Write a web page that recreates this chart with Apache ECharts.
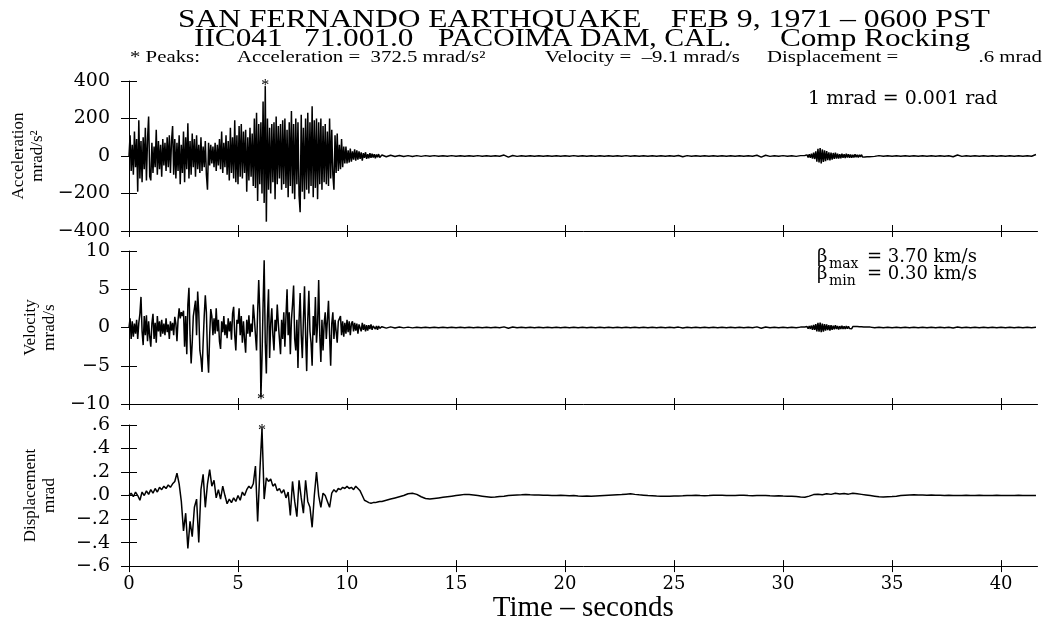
<!DOCTYPE html>
<html><head><meta charset="utf-8">
<script src="https://cdn.jsdelivr.net/npm/echarts@6/dist/echarts.min.js"></script>
<style>html,body{margin:0;padding:0;background:#fff}#c{width:1049px;height:624px}</style>
</head><body><div id="c"></div>
<script>
// ---------- DATA ----------
const xTicks = [0, 5, 10, 15, 20, 25, 30, 35, 40];
const xMax = 41.67;
const accTicks = [-400, -200, 0, 200, 400];
const accTickLabels = ['−400', '−200', '0', '200', '400'];
const velTicks = [-10, -5, 0, 5, 10];
const velTickLabels = ['−10', '−5', '0', '5', '10'];
const dispTicks = [-0.6, -0.4, -0.2, 0, 0.2, 0.4, 0.6];
const dispTickLabels = ['−.6', '−.4', '−.2', '.0', '.2', '.4', '.6'];

const earlyStart = 0, earlyStep = 0.05;        // acc & vel, 0 .. 11.5 s
const dispEarlyStep = 0.1;                      // disp, 0 .. 11.5 s
const tailAStart = 11.6, tailStep = 0.2;        // 11.6 .. 30.8 s
const burstStart = 31.0, burstStep = 0.05;      // 31.0 .. 34.0 s
const tailBStart = 34.2;                        // 34.2 .. 41.6 s
const dispTailStart = 11.6;                     // disp, 11.6 .. 41.6 s

// Acceleration (mrad/s^2)
const accEarly = [
  0, 110, -80, 60, -100, 130, -60, 90, -190, 190, -120, 80, -140, 100, -70, 150, -130, 90, 210, -110,
  -130, 70, -90, 50, -60, 140, -100, 80, -70, 60, -110, 90, -50, 70, -80, 100, -60, 110, -90, 80,
  160, -100, 90, -120, 70, -80, 110, -150, 60, -90, 130, -140, 100, -70, 175, -120, 80, -100, 120, -60,
  90, -110, 110, -70, 60, -90, 100, -80, 50, -60, 80, -100, -180, 70, -50, 60, -40, 50, -60, 70,
  -80, 60, -50, 90, -70, 130, -90, 70, -60, 110, -100, 80, -130, 150, -90, 100, -120, 190, -140, 110,
  -150, 160, -110, 170, -120, 130, -90, 140, -190, 100, -130, 150, -110, 120, -160, 200, -170, 230, -240, 170,
  -150, 180, -200, 290, -250, 372.5, -350, 200, -180, 150, -200, 170, -140, 180, -230, 210, -150, 160, -120, 170,
  -180, 190, -150, 200, -170, 140, -220, 180, -160, 240, -200, 170, -230, 200, -150, 180, -210, -300, 220, -190,
  150, -230, 200, -180, 230, -200, 180, -160, 265, -220, 190, -170, 200, -230, 180, -150, 200, -180, 160, -140,
  170, -150, 130, -160, 200, -120, 140, -100, -180, 110, -90, 120, -80, 60, -70, 90, -60, 50, -40, 50,
  -40, 30, -35, 40, -30, 25, -20, 35, -25, 30, -20, 25, -15, 20, -25, 15, -10, 20, -15, 10,
  -12, 15, -10, 12, -8, 10, -12, 8, -6, 10, -8
];
const accTailA = [
  5, -4, 4, -3, 3, -3, 2, -3, 2, -2,
  2, -1, 2, -1, 1, -1, 2, -1, 1, -1,
  1, -1, 2, -1, 1, -1, 1, -1, 5, -6,
  3, -2, 1, -1, 1, -1, 1, -1, 1, -1,
  1, -1, 1, -1, 2, -1, 1, -1, 1, -1,
  1, -1, 1, -1, 1, -1, 2, -1, 1, -1,
  1, -1, 1, -1, 1, -1, 1, -1, 3, -4,
  2, -1, 1, -1, 1, -1, 1, -1, 1, -1,
  1, -1, 1, -1, 1, -1, 4, -6, 4, -2,
  1, -1, 2, -1, 1, -2, 2
];
const accBurst = [
  3, -5, 6, -8, 10, -9, 12, -14, 18, -16,
  25, -30, 38, -35, 42, -40, 35, -32, 30, -28,
  26, -22, 20, -24, 18, -20, 16, -15, 18, -14,
  12, -14, 10, -12, 13, -10, 9, -11, 12, -8,
  10, -9, 8, -10, 7, -8, 9, -6, 7, -8,
  6, -5, 7, -6, 4, -5, 5, -4, 3, -4,
  3
];
const accTailB = [
  -2, 2, -1, 1, -1, 1, -1, 1, -1, 1,
  -1, 1, -1, 1, -1, 1, -1, 1, -4, 5,
  -2, 1, -1, 1, -1, 1, -1, 1, -1, 1,
  -1, 1, -1, 1, -1, 1, -1, 8
];

// Velocity (mrad/s)
const velEarly = [
  0, 1.2, -1.5, 0.8, -1.2, 0.5, -0.8, 1.0, -1.5, 0.6, 1.8, 4.0, -0.5, -2.3, 1.5, -1.0, 1.6, -1.8, 0.8, -1.2,
  -2.5, 0.5, 1.8, -1.5, 0.6, -2.0, 1.5, -0.5, 0.8, -1.2, 1.0, -0.8, 0.5, -1.0, 1.2, -0.6, 0.4, -1.5, 0.8, -0.4,
  0.6, -1.0, 1.4, 0.5, -1.8, 1.0, 2.5, 1.2, 2.0, 1.5, 2.2, -2.5, 1.5, -3.5, 3.0, 5.2, -1.0, -4.7, -2.0, 1.5,
  2.5, 3.5, -1.0, 4.7, 2.0, -3.0, -4.0, -5.8, -2.0, 1.5, 4.2, 2.0, -3.5, -5.9, -1.0, 2.4, 1.5, -1.0, 1.2, -0.8,
  2.5, -0.5, 1.0, -1.8, -2.8, 0.8, -0.6, 1.5, -1.0, 0.4, -1.4, 1.2, -0.5, 0.8, -1.6, 1.8, 2.7, -1.0, -3.0, 1.0,
  0.5, 2.5, -1.0, 1.5, -2.0, 0.8, -1.5, -3.3, 1.0, -0.8, 1.6, -1.2, 0.5, -0.6, 3.0, 1.2, -1.0, -3.0, 2.0, 6.2,
  2.0, -9.1, -4.0, 3.0, 8.8, -2.0, -6.0, 1.5, 5.0, -4.0, 0.5, 2.5, -1.0, -3.0, 1.0, -0.5, 3.0, 0.5, -1.5, -3.5,
  1.0, -1.5, 2.0, -2.5, 1.5, 5.0, -1.0, 2.0, -3.5, 1.0, 3.0, 5.5, -1.5, -3.0, 1.0, -5.3, 1.0, 4.5, -1.0, -4.0,
  1.0, 5.4, -1.0, -5.7, 1.0, 4.8, -0.5, -2.0, -5.0, 1.5, -1.0, 4.0, -2.0, 0.5, 6.2, -1.0, -4.5, 1.0, -3.0, 0.5,
  2.0, -1.5, 1.0, 3.5, -1.0, -5.0, 0.5, 2.0, -1.5, 1.0, -0.5, -2.0, 0.8, 1.0, 1.5, -1.0, 0.8, -1.2, 0.6, -0.8,
  1.0, -0.6, 0.8, -1.0, 0.5, 0.8, -0.5, 0.6, -0.4, 0.5, -0.8, 0.4, 0.3, -0.5, 0.6, -0.3, 0.4, -0.5, 0.3, -0.4,
  0.3, -0.2, 0.4, -0.3, 0.2, 0.3, -0.2, 0.2, -0.3, 0.2, -0.1
];
const velTailA = [
  0.1, -0.08, 0.08, -0.06, 0.06, -0.05, 0.05, -0.05, 0.04, -0.04,
  0.04, -0.03, 0.04, -0.04, 0.03, -0.03, 0.04, -0.03, 0.03, -0.03,
  0.03, -0.03, 0.04, -0.03, 0.03, -0.03, 0.03, -0.03, 0.08, -0.1,
  0.06, -0.04, 0.03, -0.03, 0.03, -0.03, 0.03, -0.03, 0.03, -0.03,
  0.03, -0.03, 0.03, -0.03, 0.04, -0.03, 0.03, -0.03, 0.03, -0.03,
  0.03, -0.03, 0.03, -0.03, 0.03, -0.03, 0.04, -0.03, 0.03, -0.03,
  0.03, -0.03, 0.03, -0.03, 0.03, -0.03, 0.03, -0.03, 0.05, -0.06,
  0.04, -0.03, 0.03, -0.03, 0.03, -0.03, 0.03, -0.03, 0.03, -0.03,
  0.03, -0.03, 0.03, -0.03, 0.03, -0.03, 0.08, -0.1, 0.07, -0.04,
  0.03, -0.03, 0.04, -0.03, 0.03, -0.04, 0.05
];
const velBurst = [
  0.08, -0.1, 0.12, -0.15, 0.2, -0.18, 0.25, -0.3, 0.35, -0.3,
  0.45, -0.5, 0.6, -0.55, 0.65, -0.6, 0.5, -0.55, 0.45, -0.4,
  0.4, -0.35, 0.3, -0.4, 0.3, -0.3, 0.25, -0.25, 0.3, -0.2,
  0.2, -0.25, 0.18, -0.2, 0.22, -0.18, 0.15, -0.2, 0.18, -0.14,
  0.15, -0.14, 0.12, -0.15, 0.12, -0.12, 0.14, -0.1, 0.12, -0.12,
  0.1, -0.08, 0.1, -0.09, 0.07, -0.08, 0.08, -0.06, 0.05, -0.06,
  0.05
];
const velTailB = [
  -0.04, 0.04, -0.03, 0.03, -0.03, 0.03, -0.03, 0.03, -0.03, 0.03,
  -0.03, 0.03, -0.03, 0.03, -0.03, 0.03, -0.03, 0.03, -0.06, 0.07,
  -0.04, 0.03, -0.03, 0.03, -0.03, 0.03, -0.03, 0.03, -0.03, 0.03,
  -0.03, 0.03, -0.03, 0.03, -0.03, 0.03, -0.03, 0.04
];

// Displacement (mrad)
const dispEarly = [
  0.0, 0.02, -0.01, 0.03, 0.0, -0.04, 0.03, 0.0, 0.04, 0.01,
  0.05, 0.02, 0.06, 0.03, 0.07, 0.05, 0.08, 0.06, 0.09, 0.07,
  0.1, 0.12, 0.19, 0.1, -0.05, -0.3, -0.15, -0.45, -0.22, -0.35,
  -0.1, -0.03, -0.4, 0.05, 0.18, -0.1, 0.1, 0.22, 0.08, 0.13,
  -0.02, 0.05, -0.03, 0.08, 0.0, -0.07, -0.03, -0.06, -0.02, -0.05,
  0.0, -0.04, 0.03, 0.0, 0.05, 0.08, 0.06, 0.1, 0.25, -0.22,
  0.2, 0.57, -0.03, 0.15, 0.12, 0.14, 0.08, 0.1, 0.04, 0.06,
  0.02, 0.05, -0.02, 0.03, -0.17, 0.12, -0.05, -0.18, 0.13, -0.02,
  -0.15, 0.13, -0.05, -0.1, -0.27, 0.0, 0.2, 0.0, -0.1, 0.02,
  0.0, -0.05, -0.1, 0.02, 0.05, 0.03, 0.06, 0.05, 0.07, 0.06,
  0.08, 0.06, 0.07, 0.05, 0.08, 0.06, 0.04, 0.0, -0.04, -0.05,
  -0.06, -0.065, -0.06, -0.06, -0.055, -0.05
];
const dispTail = [
  -0.05, -0.04, -0.03, -0.02, -0.01, 0.0, 0.015, 0.02,
  0.01, -0.01, -0.025, -0.03, -0.025, -0.02, -0.015, -0.01, -0.005, 0.0, 0.005, 0.01, 0.008, 0.005, 0.0, -0.005, -0.01, -0.015, -0.012, -0.008,
  -0.005, 0.0, 0.003, 0.005, 0.006, 0.008, 0.006, 0.005, 0.004, 0.002, 0.003, 0.001, 0.0, 0.002, 0.0,
  -0.002, 0.0, -0.003, -0.005, -0.004, -0.006, -0.004, -0.002, 0.0, 0.002, 0.004, 0.006, 0.008, 0.012, 0.015, 0.01, 0.006, 0.003, 0.0, -0.002, -0.004, -0.005, -0.006, -0.005, -0.004,
  -0.003, -0.002, 0.0, 0.001, 0.002, 0.0, -0.001, 0.0, 0.002, 0.003, 0.002, 0.001, 0.0, 0.001, 0.003, 0.002, 0.0, -0.001, 0.0, 0.001, 0.0, -0.002, -0.003, -0.002, -0.004,
  -0.005, -0.006, -0.008, -0.012, -0.015, -0.005, 0.008, 0.012, 0.006, 0.015, 0.01, 0.02, 0.014, 0.018, 0.012, 0.02, 0.015, 0.01, 0.005, 0.0,
  -0.005, -0.01, -0.012, -0.01, -0.008, -0.005, 0.0, 0.003, 0.005, 0.006, 0.005, 0.004, 0.003, 0.004, 0.002, 0.003, 0.001, 0.002, 0.0, 0.001,
  0.0, 0.002, 0.001, 0.0, 0.002, 0.001, 0.0, 0.001, 0.002, 0.0, 0.001, 0.0, 0.001, 0.002, 0.0, 0.001, 0.0, 0.001
];

// Peak markers [time s, value]
const accPeak = [6.25, 372.5];
const velPeak = [6.05, -9.1];
const dispPeak = [6.1, 0.57];

// ---------- BUILD ----------
function toPairs(segments) {
  const out = [];
  segments.forEach(([start, step, values]) => {
    values.forEach((v, i) => out.push([+(start + i * step).toFixed(3), v]));
  });
  return out;
}
const accData = toPairs([[earlyStart, earlyStep, accEarly], [tailAStart, tailStep, accTailA],
  [burstStart, burstStep, accBurst], [tailBStart, tailStep, accTailB]]);
const velData = toPairs([[earlyStart, earlyStep, velEarly], [tailAStart, tailStep, velTailA],
  [burstStart, burstStep, velBurst], [tailBStart, tailStep, velTailB]]);
const dispData = toPairs([[earlyStart, dispEarlyStep, dispEarly], [dispTailStart, tailStep, dispTail]]);

const BLACK = '#000';
const serif = 'Liberation Serif';
const numFont = 'DejaVu Serif';

const grids = [
  { left: 129, width: 908.5, top: 81, height: 150 },
  { left: 129, width: 908.5, top: 251, height: 153 },
  { left: 129, width: 908.5, top: 425, height: 152 }
];

function xAxes(g, showLabels) {
  const main = {
    type: 'value', gridIndex: g, position: 'bottom', min: 0, max: xMax, interval: 5,
    axisLine: { show: true, onZero: false, lineStyle: { color: BLACK, width: 1 } },
    axisTick: { show: true, inside: false, length: 6, customValues: xTicks, lineStyle: { color: BLACK, width: 1 } },
    axisLabel: { show: showLabels, customValues: xTicks, color: BLACK, fontFamily: numFont, fontSize: 18, margin: 9 },
    splitLine: { show: false }
  };
  if (showLabels) {
    main.name = 'Time – seconds';
    main.nameLocation = 'middle';
    main.nameGap = 18;
    main.nameTextStyle = { color: BLACK, fontFamily: serif, fontSize: 29 };
  }
  const aux = {
    type: 'value', gridIndex: g, position: 'bottom', min: 0, max: xMax, interval: 5,
    axisLine: { show: false, onZero: false },
    axisTick: { show: true, inside: true, length: 6, customValues: xTicks, lineStyle: { color: BLACK, width: 1 } },
    axisLabel: { show: false },
    splitLine: { show: false }
  };
  return [main, aux];
}
function yAxes(g, ticks, labels, name) {
  const step = ticks[1] - ticks[0];
  const fmt = v => {
    let best = 0;
    ticks.forEach((t, i) => { if (Math.abs(t - v) < Math.abs(ticks[best] - v)) best = i; });
    return labels[best];
  };
  const main = {
    type: 'value', gridIndex: g, position: 'left', min: ticks[0], max: ticks[ticks.length - 1], interval: step,
    axisLine: { show: true, onZero: false, lineStyle: { color: BLACK, width: 1 } },
    axisTick: { show: true, inside: false, length: 8, lineStyle: { color: BLACK, width: 1 } },
    axisLabel: { show: true, formatter: fmt, color: BLACK, fontFamily: numFont, fontSize: 19, margin: 19 },
    splitLine: { show: false },
    name: name, nameLocation: 'middle', nameRotate: 90, nameGap: 70,
    nameTextStyle: { color: BLACK, fontFamily: serif, fontSize: 17, lineHeight: 19 }
  };
  const aux = {
    type: 'value', gridIndex: g, position: 'left', min: ticks[0], max: ticks[ticks.length - 1], interval: step,
    axisLine: { show: false, onZero: false },
    axisTick: { show: true, inside: true, length: 8, lineStyle: { color: BLACK, width: 1 } },
    axisLabel: { show: false },
    splitLine: { show: false }
  };
  return [main, aux];
}

function trace(data, axisIdx, peak, dy) {
  return {
    type: 'line', xAxisIndex: axisIdx, yAxisIndex: axisIdx, data: data,
    showSymbol: false, symbol: 'none', animation: false,
    lineStyle: { color: BLACK, width: 1.5 },
    markPoint: {
      symbol: 'circle', symbolSize: 1, itemStyle: { color: BLACK },
      label: { show: true, formatter: '*', position: 'inside', offset: [0, dy], color: BLACK, fontFamily: serif, fontSize: 16 },
      data: [{ coord: peak }]
    }
  };
}

function txt(text, x, y, size, scale, align, family) {
  return {
    type: 'text', x: x, y: y, scaleX: scale, silent: true,
    style: { text: text, fill: BLACK, fontSize: size, fontFamily: family || serif, align: align || 'left', verticalAlign: 'middle' }
  };
}

const option = {
  backgroundColor: '#fff',
  animation: false,
  grid: grids,
  xAxis: [...xAxes(0, false), ...xAxes(1, false), ...xAxes(2, true)],
  yAxis: [
    ...yAxes(0, accTicks, accTickLabels, 'Acceleration\nmrad/s²'),
    ...yAxes(1, velTicks, velTickLabels, 'Velocity\nmrad/s'),
    ...yAxes(2, dispTicks, dispTickLabels, 'Displacement\nmrad')
  ],
  graphic: [
    txt('SAN FERNANDO EARTHQUAKE', 178, 20, 25, 1.26),
    txt('FEB 9, 1971 – 0600 PST', 990, 20, 25, 1.27, 'right'),
    txt('IIC041', 194, 39, 25, 1.25),
    txt('71.001.0', 304, 39, 25, 1.25),
    txt('PACOIMA DAM, CAL.', 438, 39, 25, 1.19),
    txt('Comp Rocking', 970, 39, 25, 1.25, 'right'),
    txt('* Peaks:', 130, 58, 16, 1.3),
    txt('Acceleration =  372.5 mrad/s²', 237, 58, 16, 1.3),
    txt('Velocity =  –9.1 mrad/s', 545, 58, 16, 1.3),
    txt('Displacement =', 767, 58, 16, 1.3),
    txt('.6 mrad', 1042, 58, 16, 1.3, 'right'),
    txt('1 mrad = 0.001 rad', 808, 99, 19, 1.0, 'left', numFont),
    txt('β', 817, 257, 18, 1.0, 'left', numFont),
    txt('max', 829, 264, 14, 1.0, 'left', numFont),
    txt('= 3.70 km/s', 867, 257, 18, 1.0, 'left', numFont),
    txt('β', 817, 274, 18, 1.0, 'left', numFont),
    txt('min', 829, 281, 14, 1.0, 'left', numFont),
    txt('= 0.30 km/s', 867, 274, 18, 1.0, 'left', numFont)
  ],
  series: [
    trace(accData, 0, accPeak, 0),
    trace(velData, 2, velPeak, 3),
    trace(dispData, 4, dispPeak, 2)
  ]
};

const chart = echarts.init(document.getElementById('c'), null, { renderer: 'canvas' });
chart.setOption(option);
</script></body></html>
